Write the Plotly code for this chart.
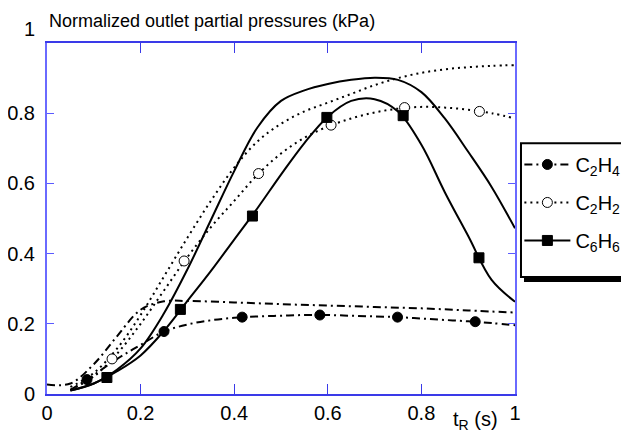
import plotly.graph_objects as go

# ---- data ----
# measured points (markers)
t_c2h4_pts = [0.0855, 0.25, 0.417, 0.583, 0.749, 0.915]
c2h4_pts = [0.041, 0.178, 0.219, 0.225, 0.219, 0.206]
t_c2h2_pts = [0.139, 0.293, 0.452, 0.607, 0.764, 0.924]
c2h2_pts = [0.10, 0.379, 0.628, 0.766, 0.816, 0.805]
t_c6h6_pts = [0.128, 0.285, 0.439, 0.598, 0.761, 0.923]
c6h6_pts = [0.047, 0.241, 0.507, 0.788, 0.793, 0.388]

# curves through the measured points
t_c2h4_fit = [0.05, 0.0855, 0.15, 0.2, 0.25, 0.3, 0.35, 0.4, 0.45, 0.5, 0.55, 0.6, 0.65, 0.7, 0.75, 0.8, 0.85, 0.9, 0.95, 1.0]
c2h4_fit = [0.012, 0.041, 0.10, 0.14, 0.178, 0.198, 0.21, 0.217, 0.221, 0.223, 0.225, 0.225, 0.223, 0.221, 0.219, 0.215, 0.211, 0.207, 0.202, 0.196]
t_c2h2_fit = [0.05, 0.1, 0.15, 0.2, 0.25, 0.3, 0.35, 0.4, 0.45, 0.5, 0.55, 0.6, 0.65, 0.7, 0.75, 0.8, 0.85, 0.9, 0.95, 1.0]
c2h2_fit = [0.012, 0.05, 0.115, 0.2, 0.295, 0.39, 0.475, 0.55, 0.625, 0.685, 0.73, 0.762, 0.785, 0.802, 0.813, 0.818, 0.816, 0.81, 0.80, 0.785]
t_c6h6_fit = [0.05, 0.1, 0.15, 0.2, 0.25, 0.3, 0.35, 0.4, 0.45, 0.5, 0.55, 0.6, 0.65, 0.7, 0.75, 0.8, 0.85, 0.9, 0.95, 1.0]
c6h6_fit = [0.01, 0.03, 0.065, 0.11, 0.18, 0.265, 0.35, 0.44, 0.53, 0.625, 0.715, 0.79, 0.835, 0.84, 0.805, 0.71, 0.575, 0.45, 0.325, 0.263]

# model curves (no markers)
t_c2h4_mod = [0.0, 0.05, 0.1, 0.15, 0.2, 0.25, 0.3, 0.4, 0.5, 0.6, 0.7, 0.8, 0.9, 1.0]
c2h4_mod = [0.027, 0.03, 0.085, 0.165, 0.24, 0.264, 0.265, 0.261, 0.256, 0.252, 0.248, 0.244, 0.238, 0.232]
t_c2h2_mod = [0.05, 0.1, 0.15, 0.2, 0.25, 0.3, 0.35, 0.4, 0.45, 0.5, 0.55, 0.6, 0.65, 0.7, 0.75, 0.8, 0.85, 0.9, 0.95, 1.0]
c2h2_mod = [0.02, 0.06, 0.13, 0.225, 0.335, 0.445, 0.55, 0.645, 0.72, 0.77, 0.805, 0.83, 0.855, 0.88, 0.90, 0.915, 0.925, 0.931, 0.935, 0.937]
t_c6h6_mod = [0.05, 0.1, 0.15, 0.2, 0.25, 0.3, 0.35, 0.4, 0.45, 0.5, 0.55, 0.6, 0.65, 0.7, 0.75, 0.8, 0.85, 0.9, 0.95, 1.0]
c6h6_mod = [0.01, 0.03, 0.07, 0.13, 0.23, 0.355, 0.495, 0.635, 0.76, 0.835, 0.865, 0.883, 0.895, 0.901, 0.895, 0.86, 0.785, 0.69, 0.59, 0.472]

legend_names = ["C<sub>2</sub>H<sub>4</sub>", "C<sub>2</sub>H<sub>2</sub>", "C<sub>6</sub>H<sub>6</sub>"]
x_ticks = [0, 0.2, 0.4, 0.6, 0.8, 1]
y_ticks = [0, 0.2, 0.4, 0.6, 0.8]

FONT = "Liberation Sans, Arial, sans-serif"
DASHDOT = "8px,4px,2px,4px"
DOT = "2px,4px"

fig = go.Figure()

def curve(t, y, dash):
    fig.add_trace(go.Scatter(x=t, y=y, mode="lines", showlegend=False, hoverinfo="skip",
                             line=dict(color="black", width=2, dash=dash, shape="spline", smoothing=1.0)))

def pts(t, y, symbol, fill):
    fig.add_trace(go.Scatter(x=t, y=y, mode="markers", showlegend=False,
                             marker=dict(symbol=symbol, size=10, color=fill,
                                         line=dict(color="black", width=1))))

curve(t_c2h4_mod, c2h4_mod, DASHDOT)
curve(t_c2h2_mod, c2h2_mod, DOT)
curve(t_c6h6_mod, c6h6_mod, "solid")
curve(t_c2h4_fit, c2h4_fit, DASHDOT)
curve(t_c2h2_fit, c2h2_fit, DOT)
curve(t_c6h6_fit, c6h6_fit, "solid")
pts(t_c2h4_pts, c2h4_pts, "circle", "black")
pts(t_c2h2_pts, c2h2_pts, "circle", "white")
pts(t_c6h6_pts, c6h6_pts, "square", "black")

# legend entries
for name, dash, sym, fill in zip(legend_names, [DASHDOT, DOT, "solid"],
                                 ["circle", "circle", "square"], ["black", "white", "black"]):
    fig.add_trace(go.Scatter(x=[None], y=[None], mode="lines+markers", name=name,
                             legendgroup=name,
                             line=dict(color="black", width=2, dash=dash),
                             marker=dict(symbol=sym, size=10, color=fill,
                                         line=dict(color="black", width=1))))

fig.update_layout(
    width=629, height=439,
    margin=dict(l=39, r=122, t=35, b=53),
    paper_bgcolor="white", plot_bgcolor="white",
    font=dict(family=FONT, size=20, color="black"),
    showlegend=True,
    legend=dict(xref="container", yref="container", x=0.813, xanchor="left",
                y=0.688, yanchor="top",
                bgcolor="rgba(0,0,0,0)", borderwidth=0,
                font=dict(family=FONT, size=20, color="black"),
                tracegroupgap=9, itemwidth=46),
    xaxis=dict(range=[0, 1], tickvals=x_ticks, ticktext=[f"{v:g}" for v in x_ticks],
               ticks="inside", ticklen=10, tickcolor="#3a3ae8", tickwidth=1,
               showline=True, linecolor="#3a3ae8", linewidth=2, mirror="ticks",
               showgrid=False, zeroline=False, automargin=False),
    yaxis=dict(range=[0, 1], tickvals=y_ticks, ticktext=[f"{v:g}" for v in y_ticks],
               ticks="inside", ticklen=7, tickcolor="#5a5aff", tickwidth=1,
               showline=True, linecolor="#6a6aff", linewidth=2, mirror="ticks",
               showgrid=False, zeroline=False, ticklabelstandoff=6, automargin=False),
    shapes=[
        dict(type="rect", xref="paper", yref="paper",
             x0=1.0192, x1=1.4, y0=0.319, y1=0.70,
             fillcolor="black", line=dict(width=0), layer="below"),
        dict(type="rect", xref="paper", yref="paper",
             x0=1.0128, x1=1.4, y0=0.3333, y1=0.7142,
             fillcolor="white", line=dict(color="black", width=2), layer="below"),
    ],
    annotations=[
        dict(text="Normalized outlet partial pressures (kPa)", xref="paper", yref="paper",
             x=0.0, y=1.028, xanchor="left", yanchor="bottom", showarrow=False,
             font=dict(family=FONT, size=18)),
        dict(text="1", xref="paper", yref="paper", x=-0.022, y=1.041,
             xanchor="right", yanchor="middle", showarrow=False,
             font=dict(family=FONT, size=20)),
        dict(text="t<sub>R</sub> (s)", xref="paper", yref="paper", x=0.863, y=-0.034,
             xanchor="left", yanchor="top", showarrow=False,
             font=dict(family=FONT, size=20)),
    ],
)

fig.write_html("out.html")
